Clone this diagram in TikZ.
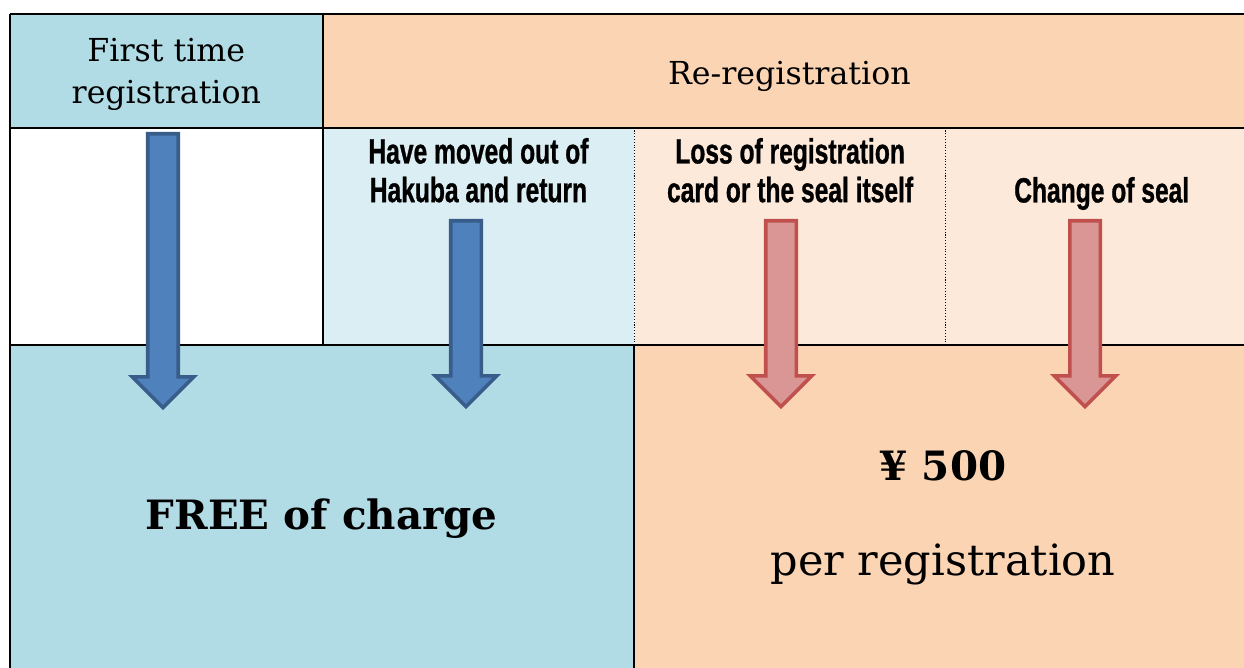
\documentclass[tikz,border=0pt]{standalone}
\usepackage{fontspec}
\usepackage{xcolor}
\usepackage{tikz}
\usetikzlibrary{shapes.arrows, positioning}

\setmainfont{DejaVu Serif}
\newfontfamily\casefont[FakeStretch=0.70, FakeBold=0.8]{Liberation Sans Bold}

\definecolor{aquamid}{HTML}{B2DCE5}
\definecolor{aqualight}{HTML}{DBEEF3}
\definecolor{peachmid}{HTML}{FBD4B4}
\definecolor{peachlight}{HTML}{FCE9DA}
\definecolor{arrowblue}{HTML}{4F81BD}
\definecolor{arrowblueline}{HTML}{385D8A}
\definecolor{arrowred}{HTML}{D99694}
\definecolor{arrowredline}{HTML}{C0504D}

\begin{document}
\begin{tikzpicture}[
        x=0.02cm, y=-0.02cm, % one unit = one pixel of the layout
        cell/.style={rectangle, anchor=north west, inner sep=0pt},
        title/.style={align=center, inner sep=0pt, font=\fontsize{18}{24}\selectfont},
        case/.style={anchor=north, inner sep=0pt, align=center,
                     font=\casefont\fontsize{20}{22}\selectfont},
        grid/.style={line width=1.1pt},
        sepline/.style={densely dotted, line width=0.6pt},
        fatarrow/.style={single arrow, draw, line width=2pt, inner sep=0.27cm,
                         shape border rotate=270, anchor=tail,
                         single arrow head extend=0.31cm},
        bluearrow/.style={fatarrow, fill=arrowblue, draw=arrowblueline},
        redarrow/.style={fatarrow, fill=arrowred, draw=arrowredline}
      ]

      \useasboundingbox (0,0) rectangle (1244,668);
      \clip (0,0) rectangle (1244,668);

      % Header row
      \node (first) [cell, fill=aquamid, minimum width=6.24cm, minimum height=2.26cm] at (10,14) {};
      \node (rereg) [cell, fill=peachmid, minimum width=18.66cm, minimum height=2.26cm] at (first.north east) {};
      \node (firsttxt) [title] at ([yshift=-0.07cm]first.center) {First time\\registration};
      \node (reregtxt) [title] at ([yshift=-0.11cm]rereg.center) {Re-registration};

      % Cases
      \node (blank) [cell, fill=white, minimum width=6.24cm, minimum height=4.34cm]
            at (first.south west) {};
      \node (moved) [cell, fill=aqualight, minimum width=6.22cm, minimum height=4.34cm]
            at (blank.north east) {};
      \node (loss) [cell, fill=peachlight, minimum width=6.22cm, minimum height=4.34cm]
            at (moved.north east) {};
      \node (change) [cell, fill=peachlight, minimum width=6.22cm, minimum height=4.34cm]
            at (loss.north east) {};

      \node (movedtxt) [case, below=0.2cm of moved.north] {Have moved out of\\Hakuba and return};
      \node (losstxt) [case, below=0.2cm of loss.north] {Loss of registration\\card or the seal itself};
      \node (changetxt) [case, below=0.98cm of change.north] {Change of seal};

      % Fees
      \node (free) [cell, fill=aquamid, minimum width=12.46cm, minimum height=6.9cm]
            at (blank.south west) {\bfseries\fontsize{23}{26}\selectfont FREE of charge};
      \node (price) [cell, fill=peachmid, minimum width=12.5cm, minimum height=6.9cm]
            at (free.north east) {};
      \node (yen) [font=\bfseries\fontsize{23}{26}\selectfont] at (943,466) {¥ 500};
      \node (per) [font=\fontsize{24.5}{28}\selectfont] at (943,564) {per registration};

      % Lines
      \draw [grid] (first.north west) -- (rereg.north east);
      \draw [grid] (first.south west) -- (rereg.south east);
      \draw [grid] (first.north west) -- (free.south west);
      \draw [grid] (first.north east) -- (moved.south west);
      \draw [grid] (blank.south west) -- (change.south east);
      \draw [grid] (price.north west) -- (price.south west);
      \draw [sepline] (loss.north west) -- (loss.south west);
      \draw [sepline] (change.north west) -- (change.south west);

      % Arrows
      \node (arrfirst) [bluearrow, minimum height=5.48cm] at (163,132) {};
      \node (arrmoved) [bluearrow, minimum height=3.72cm] at (466,219) {};
      \node (arrloss) [redarrow, minimum height=3.72cm] at (781,219) {};
      \node (arrchange) [redarrow, minimum height=3.72cm] at (1085,219) {};

    \end{tikzpicture}
\end{document}
